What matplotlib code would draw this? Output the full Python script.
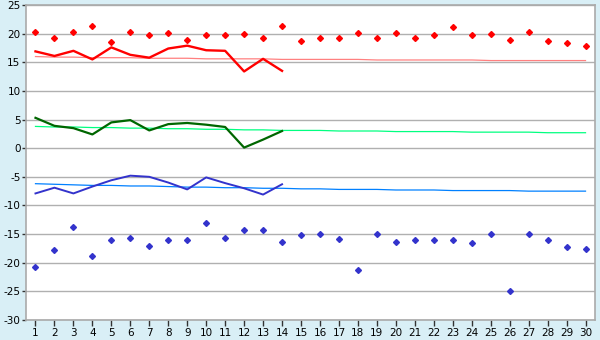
import matplotlib
matplotlib.use("Agg")
import matplotlib.pyplot as plt

days = list(range(1, 31))
days14 = list(range(1, 15))

max_temp = [20.3, 19.3, 20.3, 21.4, 18.6, 20.3, 19.8, 20.1, 18.9, 19.7,
            19.7, 19.9, 19.3, 21.3, 18.8, 19.3, 19.3, 20.1, 19.3, 20.1,
            19.3, 19.8, 21.2, 19.8, 20.0, 18.9, 20.3, 18.8, 18.4, 17.9]
min_temp = [-20.8, -17.8, -13.8, -18.9, -16.1, -15.6, -17.1, -16.1, -16.1, -13.1,
            -15.6, -14.2, -14.3, -16.3, -15.2, -15.0, -15.9, -21.3, -15.0, -16.4,
            -16.1, -16.1, -16.1, -16.6, -15.0, -25.0, -15.0, -16.1, -17.3, -17.6]

avg_max = [16.9, 16.1, 17.0, 15.5, 17.6, 16.3, 15.8, 17.4, 17.9, 17.1,
           17.0, 13.4, 15.6, 13.5]
avg_mean = [5.3, 3.9, 3.5, 2.4, 4.5, 4.9, 3.1, 4.2, 4.4, 4.1,
            3.7, 0.1, 1.5, 3.0]
avg_min = [-7.9, -6.9, -7.9, -6.7, -5.6, -4.8, -5.0, -6.0, -7.2, -5.1,
           -6.1, -7.0, -8.1, -6.3]

norm_max = [16.0, 15.9, 15.9, 15.8, 15.8, 15.8, 15.7, 15.7, 15.7, 15.6,
            15.6, 15.6, 15.6, 15.5, 15.5, 15.5, 15.5, 15.5, 15.4, 15.4,
            15.4, 15.4, 15.4, 15.4, 15.3, 15.3, 15.3, 15.3, 15.3, 15.3]
norm_mean = [3.8, 3.7, 3.7, 3.6, 3.6, 3.5, 3.5, 3.4, 3.4, 3.3,
             3.3, 3.2, 3.2, 3.1, 3.1, 3.1, 3.0, 3.0, 3.0, 2.9,
             2.9, 2.9, 2.9, 2.8, 2.8, 2.8, 2.8, 2.7, 2.7, 2.7]
norm_min = [-6.2, -6.3, -6.4, -6.5, -6.5, -6.6, -6.6, -6.7, -6.8, -6.8,
            -6.9, -6.9, -7.0, -7.0, -7.1, -7.1, -7.2, -7.2, -7.2, -7.3,
            -7.3, -7.3, -7.4, -7.4, -7.4, -7.4, -7.5, -7.5, -7.5, -7.5]

yticks = list(range(-30, 26, 5))

bg = "#d9eff6"
fig = plt.figure(figsize=(6.0, 3.4), dpi=100, facecolor=bg)
ax = fig.add_axes([26/600, 20/340, 569/600, 315/340])
ax.set_facecolor("white")

for y in yticks:
    ax.axhline(y, color="#b0b0b0", lw=1.0, zorder=1)

ax.plot(days, norm_max, color="#ff8080", lw=0.9, zorder=2)
ax.plot(days, norm_mean, color="#00ff80", lw=0.9, zorder=2)
ax.plot(days, norm_min, color="#0080ff", lw=0.9, zorder=2)

ax.plot(days14, avg_max, color="#ff0000", lw=1.7, zorder=3)
ax.plot(days14, avg_mean, color="#006600", lw=1.6, zorder=3)
ax.plot(days14, avg_min, color="#3333cc", lw=1.4, zorder=3)

ax.plot(days, max_temp, ls="none", marker="D", ms=3.0, color="#ff0000", zorder=4)
ax.plot(days, min_temp, ls="none", marker="D", ms=3.0, color="#3333cc", zorder=4)

ax.set_xlim(0.5, 30.5)
ax.set_ylim(-30, 25)
ax.set_xticks(days)
ax.set_xticklabels([str(d) for d in days])
ax.set_yticks(yticks)
ax.set_yticklabels([str(y) for y in yticks])
ax.tick_params(axis="x", length=4, width=1, color="#333333", labelsize=7.5, pad=2)
ax.tick_params(axis="y", length=3, width=1, color="#333333", labelsize=7.5, pad=1)
for s in ax.spines.values():
    s.set_color("#aaaaaa")
    s.set_linewidth(1.2)

fig.savefig("out.png", dpi=100, facecolor=bg)
